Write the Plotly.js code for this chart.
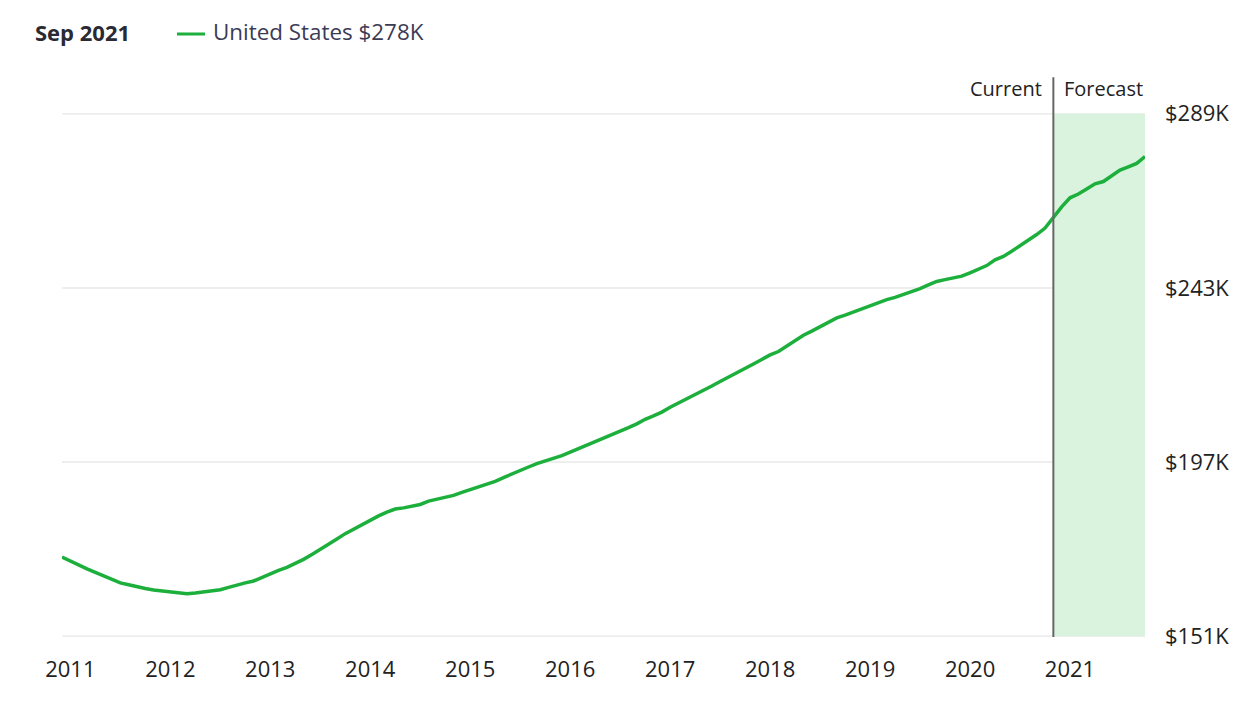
<!DOCTYPE html>
<html>
<head>
<meta charset="utf-8">
<script src="https://cdn.plot.ly/plotly-3.0.1.min.js"></script>
<style>
  html, body { margin: 0; padding: 0; background: #ffffff; }
  #chart { width: 1258px; height: 719px; }
</style>
</head>
<body>
<div id="chart"></div>
<script>
// ---- Data (monthly home value index, $K), Nov 2010 .. Sep 2021 ----
const startYear = 2010;
const startMonth = 11;
const values = [
  171.9,170.8,169.7,168.8,167.9,167.0,166.0,165.1,164.6,164.0,163.6,163.2,162.9,
  162.6,162.3,162.2,162.4,162.7,163.1,163.3,163.9,164.6,165.1,165.6,166.6,
  167.5,168.4,169.2,170.2,171.3,172.6,173.9,175.3,176.7,178.1,179.3,180.6,
  181.8,182.8,183.8,184.6,184.9,185.3,185.8,186.7,187.2,187.6,188.2,189.0,
  189.7,190.3,191.0,191.9,192.9,193.9,194.8,195.7,196.6,197.3,197.9,198.7,
  199.6,200.5,201.4,202.3,203.3,204.2,205.1,206.1,207.1,208.3,209.2,210.2,
  211.5,212.6,213.6,214.8,216.0,217.1,218.3,219.4,220.5,221.6,222.9,224.1,
  225.3,226.2,227.6,229.0,230.5,231.6,232.8,234.0,235.1,235.8,236.6,237.5,
  238.3,239.2,239.9,240.5,241.2,241.9,242.8,243.8,244.7,245.2,245.7,246.1,
  247.0,247.9,248.9,250.4,251.3,252.7,254.1,255.5,257.1,258.8,261.6,264.4,
  266.8,267.8,269.1,270.5,271.1,272.6,274.1,275.0,275.9,277.7
];
const xTickVals = [2011,2012,2013,2014,2015,2016,2017,2018,2019,2020,2021];
const xTickText = ["2011","2012","2013","2014","2015","2016","2017","2018","2019","2020","2021"];
const yTickVals = [151,197,243,289];
const yTickText = ["$151K","$197K","$243K","$289K"];
const seriesName = "United States";
const headerDate = "Sep 2021";
const forecastStart = 2020 + 10/12;   // Oct 2020

// x position of each monthly point (year + month/12)
const xs = values.map((v, i) => startYear + (startMonth + i) / 12);
const xEnd = xs[xs.length - 1];
const lastVal = values[values.length - 1];

const FONT = '"Open Sans", "Noto Sans", sans-serif';
const GREEN = '#1daf3c';
const GRID = '#eeeeee';

const trace = {
  x: xs, y: values, type: 'scatter', mode: 'lines',
  line: { color: GREEN, width: 3.5 },
  name: seriesName, hoverinfo: 'skip', cliponaxis: false
};

// grid lines for every y tick (drawn as shapes so the edge ones are kept)
const gridShapes = yTickVals.map(v => ({
  type: 'line', xref: 'paper', yref: 'y', x0: 0, x1: 1, y0: v, y1: v,
  line: { color: GRID, width: 2 }, layer: 'below'
}));

const layout = {
  width: 1258, height: 719,
  margin: { l: 62, r: 113, t: 113, b: 82 },
  paper_bgcolor: '#ffffff', plot_bgcolor: '#ffffff',
  showlegend: false,
  font: { family: FONT, size: 22, color: '#222222' },
  xaxis: {
    range: [xs[0], xEnd],
    tickvals: xTickVals, ticktext: xTickText,
    showgrid: false, zeroline: false, showline: false,
    ticks: '', ticklabelstandoff: 17,
    tickfont: { family: FONT, size: 22, color: '#222222' },
    fixedrange: true
  },
  yaxis: {
    range: [150.8, 289.2],
    side: 'right',
    tickvals: yTickVals, ticktext: yTickText,
    showgrid: false,
    zeroline: false, showline: false,
    ticks: '', ticklabelstandoff: 19,
    tickfont: { family: FONT, size: 22, color: '#222222' },
    fixedrange: true
  },
  shapes: [
    { type: 'rect', xref: 'x', yref: 'y', x0: forecastStart, x1: xEnd, y0: 151, y1: 289,
      fillcolor: '#d9f3de', line: { width: 0 }, layer: 'below' }
  ].concat(gridShapes).concat([
    { type: 'line', xref: 'x', yref: 'paper', x0: forecastStart, x1: forecastStart, y0: 0, y1: 1.068,
      line: { color: '#666666', width: 2 } },
    { type: 'line', xref: 'paper', yref: 'paper', x0: 115/1083, x1: 143/1083, y0: 1 + (113-34)/524, y1: 1 + (113-34)/524,
      line: { color: GREEN, width: 3 } }
  ]),
  annotations: [
    { text: 'Current', xref: 'x', yref: 'paper', x: forecastStart, y: 1 + (113-88)/524,
      xanchor: 'right', yanchor: 'middle', xshift: -9, showarrow: false,
      font: { family: FONT, size: 20, color: '#222222' } },
    { text: 'Forecast', xref: 'x', yref: 'paper', x: forecastStart, y: 1 + (113-88)/524,
      xanchor: 'left', yanchor: 'middle', xshift: 9, showarrow: false,
      font: { family: FONT, size: 20, color: '#222222' } },
    { text: '<b>' + headerDate + '</b>', xref: 'paper', yref: 'paper', x: -29/1083, y: 1 + (113-32)/524,
      xanchor: 'left', yanchor: 'middle', showarrow: false,
      font: { family: FONT, size: 22, color: '#2a2a33' } },
    { text: seriesName + ' $' + Math.round(lastVal) + 'K', xref: 'paper', yref: 'paper', x: 149/1083, y: 1 + (113-32)/524,
      xanchor: 'left', yanchor: 'middle', showarrow: false,
      font: { family: FONT, size: 22.4, color: '#3b3b55' } }
  ]
};

Plotly.newPlot('chart', [trace], layout, { displayModeBar: false, staticPlot: true });
</script>
</body>
</html>
